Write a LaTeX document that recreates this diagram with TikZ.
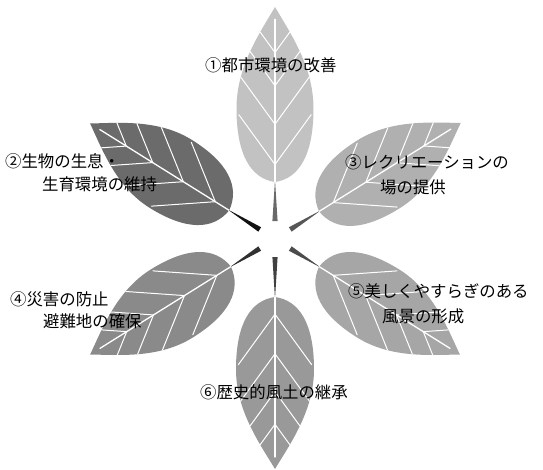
\documentclass[tikz,border=0pt]{standalone}
\usepackage{fontspec}
\newfontfamily\jpfont{Noto Sans CJK JP}

\tikzset{
  leaftext/.style={font=\jpfont\fontsize{16.4}{19}\selectfont, anchor=west, inner sep=0pt},
  vein/.style={white, line width=1.3pt, line cap=round},
}

\begin{document}
\begin{tikzpicture}[x=1pt,y=1pt]
\useasboundingbox (-275,-230) rectangle (268,239);

% six leaves round the centre: angle / base radius / length / width / grey
\foreach \ang/\rad/\len/\wid/\tone in {90/57/175/77/24, 148/54/164/80/58, 32/52/167/80/31, 212/52/166/80/46, 328/52/166/80/35, 270/58/172/78/40}
{
    \pgfmathsetmacro{\stalk}{min(95,\tone+35)}
    \begin{scope}[shift={(\ang:\rad)}, rotate=\ang]
        % stalk, wide end towards the centre
        \fill[black!\stalk] ({18-\rad},2.6) -- (2,0) -- ({18-\rad},-2.6) -- cycle;
        \begin{scope}
            \clip (0,0) .. controls ({0.02*\len},{0.32*\wid}) and ({0.16*\len},{0.5*\wid}) .. ({0.42*\len},{0.5*\wid})
                  .. controls ({0.66*\len},{0.5*\wid}) and ({0.85*\len},{0.2*\wid}) .. (\len,0)
                  .. controls ({0.85*\len},{-0.2*\wid}) and ({0.66*\len},{-0.5*\wid}) .. ({0.42*\len},{-0.5*\wid})
                  .. controls ({0.16*\len},{-0.5*\wid}) and ({0.02*\len},{-0.32*\wid}) .. cycle;
            \fill[black!\tone] (-5,{-\wid}) rectangle ({\len+5},\wid);
            % midrib and side veins
            \draw[vein] (0,0) -- ({0.93*\len},0);
            \foreach \a in {0.1,0.33,0.55,0.74}
                \draw[vein, line width=1pt] ({\a*\len},0) -- ++(36:{0.8*\wid}) ({\a*\len},0) -- ++(-36:{0.8*\wid});
        \end{scope}
    \end{scope}
}

\node[leaftext] (city) at (-70,174) {①都市環境の改善};
\node[leaftext] (habitatA) at (-270,78) {②生物の生息・};
\node[leaftext] (habitatB) at (-233,55) {生育環境の維持};
\node[leaftext] (leisureA) at (70,77) {③レクリエーションの};
\node[leaftext] (leisureB) at (105,52) {場の提供};
\node[leaftext] (disasterA) at (-265,-60) {④災害の防止};
\node[leaftext] (disasterB) at (-232,-82) {避難地の確保};
\node[leaftext] (sceneryA) at (73,-52) {⑤美しくやすらぎのある};
\node[leaftext] (sceneryB) at (107,-77) {風景の形成};
\node[leaftext] (heritage) at (-75,-153) {⑥歴史的風土の継承};
\end{tikzpicture}
\end{document}
